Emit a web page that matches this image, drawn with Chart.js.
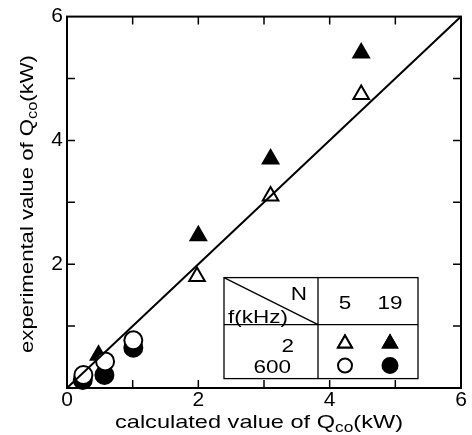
<!DOCTYPE html>
<html lang="en">
<head>
<meta charset="UTF-8">
<script src="https://cdn.jsdelivr.net/npm/chart.js@4.4.0/dist/chart.umd.min.js"></script>
<title>Qco</title>
<style>body{margin:0;background:#fff}</style>
</head>
<body>
<canvas id="qChart" width="472" height="435"></canvas>
<script>
// calculated Qco (kW) vs experimental Qco (kW)
const triOpenX = [1.98, 3.10, 4.48];        // f=2kHz, N=5
const triOpenY = [1.80, 3.10, 4.74];
const triFillX = [0.48, 2.00, 3.10, 4.48];  // f=2kHz, N=19
const triFillY = [0.53, 2.46, 3.70, 5.41];
const circOpenX = [0.25, 0.58, 1.01];       // f=600kHz, N=5
const circOpenY = [0.21, 0.43, 0.77];
const circFillX = [0.24, 0.57, 1.01];       // f=600kHz, N=19
const circFillY = [0.13, 0.21, 0.65];
const lineX = [0, 6];
const lineY = [0, 6];
const tickLabels = [0, 2, 4, 6];
const freqLabels = ['2', '600'];
const nLabels = ['5', '19'];

const FONT = '"Liberation Sans", Arial, sans-serif';
const STRETCH = 1.25; // the scanned lettering is a bit wide

function pts(xs, ys) {
    return xs.map((x, i) => ({ x: x, y: ys[i] }));
}

function markerSet(xs, ys, style, filled) {
    return {
        data: pts(xs, ys),
        pointStyle: style,
        pointRadius: 9,
        pointBorderWidth: 2,
        pointBorderColor: '#000',
        pointBackgroundColor: filled ? '#000' : '#fff',
        showLine: false,
        clip: false
    };
}

// stretched text anchored at x,y (alphabetic baseline)
function wideText(ctx, t, x, y, align, size) {
    ctx.save();
    ctx.translate(x, y);
    ctx.scale(STRETCH, 1);
    ctx.font = size + 'px ' + FONT;
    ctx.textAlign = align;
    ctx.textBaseline = 'alphabetic';
    ctx.fillText(t, 0, 0);
    ctx.restore();
}

// axis title with subscript, centred on 0, baseline at 0, stretched to a given length
function drawSubTitle(ctx, parts, len) {
    let total = 0;
    parts.forEach(p => {
        ctx.font = (p.sub ? '14px ' : '19px ') + FONT;
        p.w = ctx.measureText(p.t).width;
        total += p.w;
    });
    ctx.scale(len / total, 1);
    let x = -total / 2;
    ctx.textAlign = 'left';
    ctx.textBaseline = 'alphabetic';
    parts.forEach(p => {
        ctx.font = (p.sub ? '14px ' : '19px ') + FONT;
        ctx.fillText(p.t, x, p.sub ? 4 : 0);
        x += p.w;
    });
}

const framePlugin = {
    id: 'frame',
    afterDraw(chart) {
        const ctx = chart.ctx;
        const a = chart.chartArea;
        const xs = chart.scales.x, ys = chart.scales.y;
        ctx.save();
        ctx.strokeStyle = '#000';
        ctx.fillStyle = '#000';
        ctx.lineWidth = 2;
        ctx.strokeRect(a.left, a.top, a.right - a.left, a.bottom - a.top);
        // inward ticks on all four sides
        ctx.lineWidth = 1.5;
        for (let v = 1; v < 6; v++) {
            const px = xs.getPixelForValue(v);
            const py = ys.getPixelForValue(v);
            ctx.beginPath();
            ctx.moveTo(px, a.bottom); ctx.lineTo(px, a.bottom - 8);
            ctx.moveTo(px, a.top); ctx.lineTo(px, a.top + 8);
            ctx.moveTo(a.left, py); ctx.lineTo(a.left + 8, py);
            ctx.moveTo(a.right, py); ctx.lineTo(a.right - 8, py);
            ctx.stroke();
        }

        // axis titles
        ctx.save();
        ctx.translate(259, 428);
        drawSubTitle(ctx, [{ t: 'calculated value of Q' }, { t: 'co', sub: true }, { t: '(kW)' }], 288);
        ctx.restore();
        ctx.save();
        ctx.translate(33, 204);
        ctx.rotate(-Math.PI / 2);
        drawSubTitle(ctx, [{ t: 'experimental value of Q' }, { t: 'co', sub: true }, { t: '(kW)' }], 298);
        ctx.restore();

        // legend table
        const L = a.left + 157, T = a.top + 261, R = a.left + 351, B = a.top + 362;
        const mx = a.left + 251, my = a.top + 308;
        ctx.fillStyle = '#fff';
        ctx.fillRect(L, T, R - L, B - T);
        ctx.fillStyle = '#000';
        ctx.lineWidth = 1.3;
        ctx.strokeRect(L, T, R - L, B - T);
        ctx.beginPath();
        ctx.moveTo(mx, T); ctx.lineTo(mx, B);
        ctx.moveTo(L, my); ctx.lineTo(R, my);
        ctx.moveTo(L, T); ctx.lineTo(mx, my);
        ctx.stroke();

        const c1 = mx + 27, c2 = mx + 72;
        wideText(ctx, 'N', mx - 11, T + 22, 'right', 18);
        wideText(ctx, 'f(kHz)', L + 4, my - 2, 'left', 18);
        wideText(ctx, nLabels[0], c1, T + 31, 'center', 18);
        wideText(ctx, nLabels[1], c2, T + 31, 'center', 18);
        wideText(ctx, freqLabels[0], mx - 24, my + 27, 'right', 18);
        wideText(ctx, freqLabels[1], mx - 27, my + 48, 'right', 18);

        ctx.lineWidth = 2;
        Chart.helpers.drawPoint(ctx, { pointStyle: 'triangle', radius: 8, borderWidth: 2 }, c1, my + 19);
        ctx.fillStyle = '#fff';
        ctx.fill(); ctx.stroke();
        ctx.fillStyle = '#000';
        Chart.helpers.drawPoint(ctx, { pointStyle: 'triangle', radius: 8, borderWidth: 2 }, c2, my + 19);
        ctx.fill(); ctx.stroke();
        ctx.beginPath();
        ctx.arc(c1, my + 41, 7, 0, Math.PI * 2);
        ctx.fillStyle = '#fff'; ctx.fill(); ctx.stroke();
        ctx.beginPath();
        ctx.arc(c2, my + 41, 7.5, 0, Math.PI * 2);
        ctx.fillStyle = '#000'; ctx.fill(); ctx.stroke();
        ctx.restore();
    }
};

function tickCb(isY) {
    return function (v) {
        if (isY && v === 0) return '';
        return tickLabels.includes(v) ? String(v) : '';
    };
}

new Chart(document.getElementById('qChart'), {
    type: 'scatter',
    data: {
        datasets: [
            {
                data: pts(lineX, lineY),
                showLine: true,
                borderColor: '#000',
                borderWidth: 2,
                pointRadius: 0,
                clip: false
            },
            markerSet(triOpenX, triOpenY, 'triangle', false),
            markerSet(circOpenX, circOpenY, 'circle', false),
            markerSet(triFillX, triFillY, 'triangle', true),
            markerSet(circFillX, circFillY, 'circle', true)
        ]
    },
    options: {
        responsive: false,
        animation: false,
        layout: { padding: { top: 15, right: 10, left: 0, bottom: 0 } },
        plugins: { legend: { display: false }, tooltip: { enabled: false } },
        scales: {
            x: {
                min: 0, max: 6,
                grid: { display: false, drawTicks: false },
                border: { display: false },
                ticks: { stepSize: 1, autoSkip: false, maxRotation: 0, padding: 0, color: '#000', font: { family: FONT, size: 21 }, callback: tickCb(false) },
                afterFit(s) { s.height = 47; }
            },
            y: {
                min: 0, max: 6,
                grid: { display: false, drawTicks: false },
                border: { display: false },
                ticks: { stepSize: 1, autoSkip: false, padding: 4, color: '#000', font: { family: FONT, size: 21 }, callback: tickCb(true) },
                afterFit(s) { s.width = 67; }
            }
        }
    },
    plugins: [framePlugin]
});
</script>
</body>
</html>
